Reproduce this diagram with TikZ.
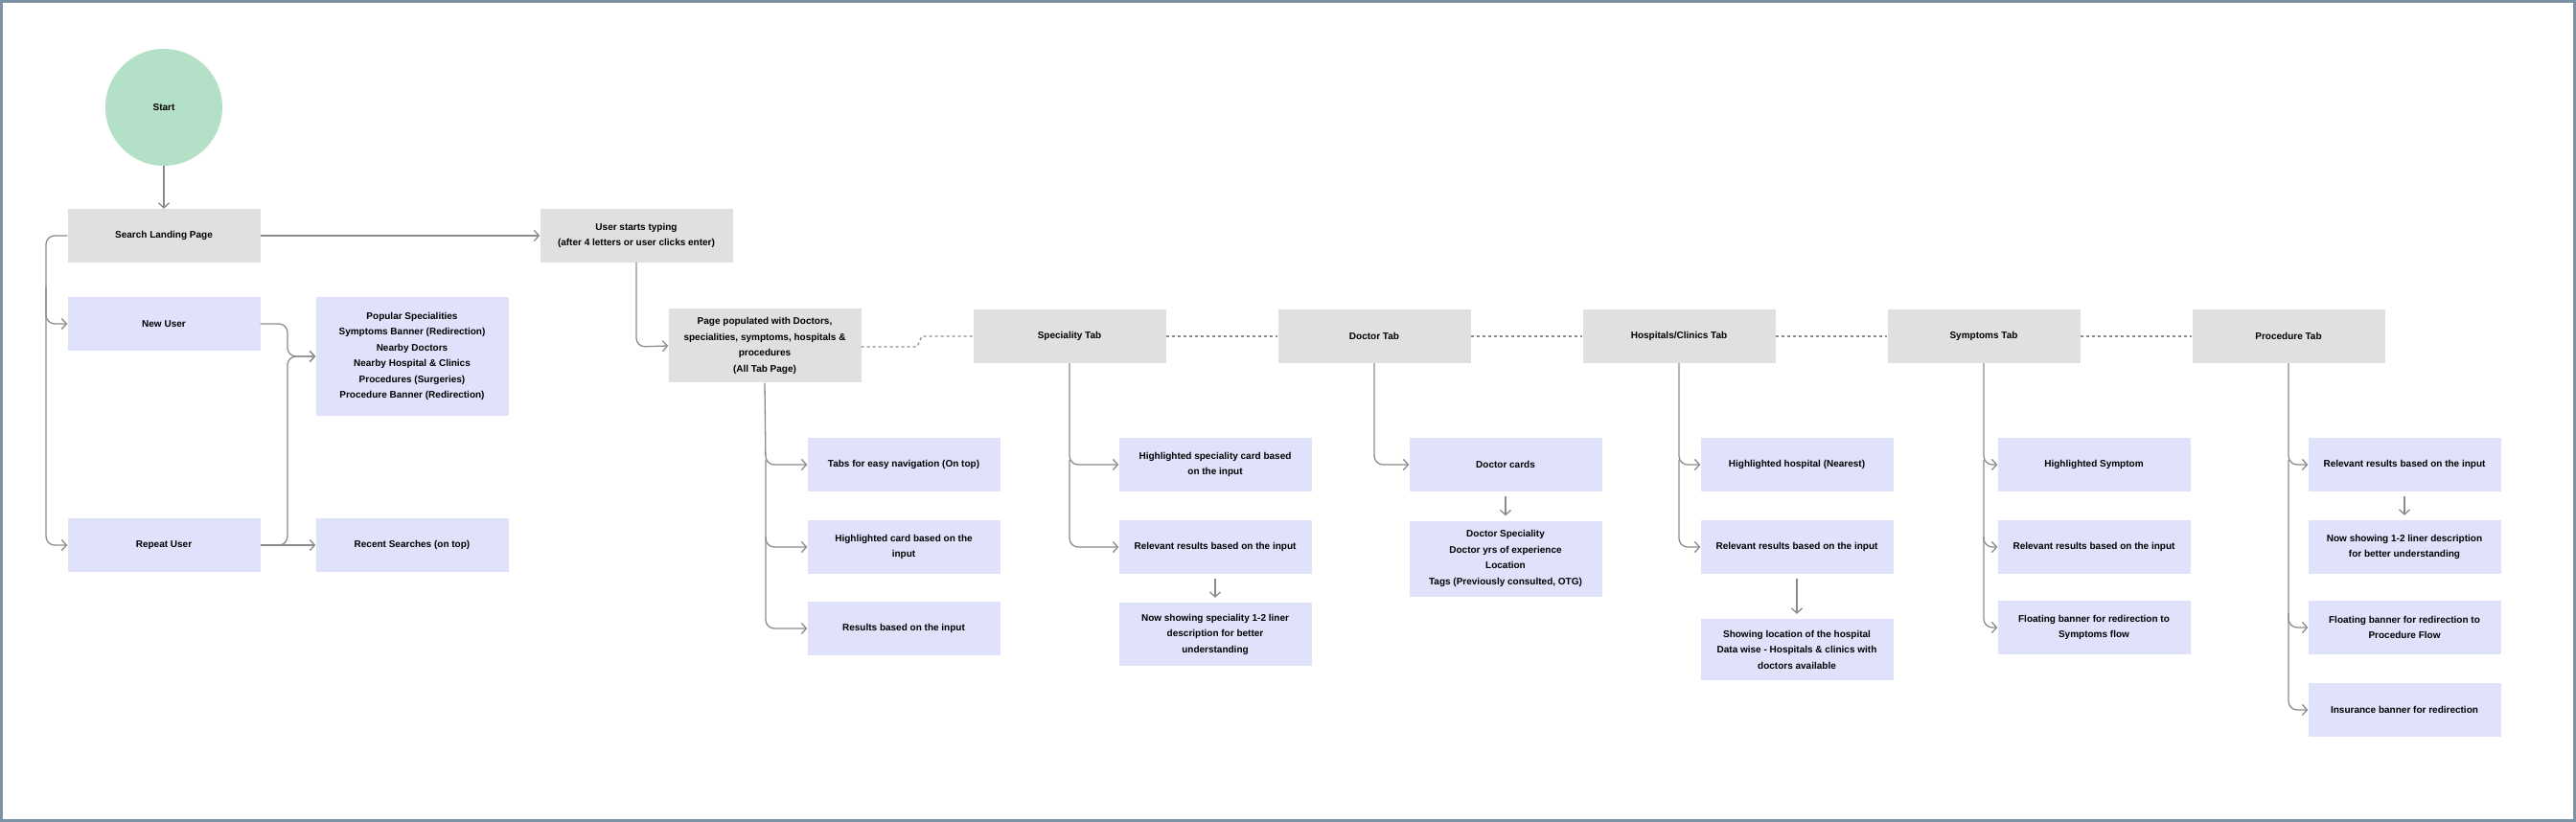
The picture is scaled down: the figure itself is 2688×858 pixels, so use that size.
\documentclass[tikz,border=0pt]{standalone}
\usepackage{fontspec}
\setmainfont{Liberation Sans}
\usetikzlibrary{arrows.meta,positioning}
\definecolor{boxgrey}{HTML}{E0E0E0}
\definecolor{boxlav}{HTML}{E0E2FB}
\definecolor{startgreen}{HTML}{B5E0C8}
\definecolor{linegrey}{HTML}{8C8C8C}
\definecolor{framecol}{HTML}{7D93A5}
\tikzset{
  greybox/.style={fill=boxgrey,minimum width=201pt,minimum height=56pt,align=center,inner sep=2pt,font=\fontsize{10}{16.5}\selectfont\bfseries},
  lavbox/.style={greybox,fill=boxlav},
  flow/.style={linegrey,line width=1.3pt,rounded corners=9pt,-{Straight Barb[length=5pt,width=11pt]}},
  tabline/.style={linegrey,line width=1.3pt,dash pattern=on 3pt off 3pt}
}
\begin{document}
\begin{tikzpicture}[x=1pt,y=-1pt]
  \fill[white] (0,0) rectangle (2688,858);
  \draw[framecol,line width=3pt] (1.5,1.5) rectangle (2686.5,856.5);

  % left part
  \node[circle,fill=startgreen,minimum size=122pt,font=\fontsize{10}{12}\selectfont\bfseries] (start) at (171,112) {Start};
  \node[greybox] (landing) at (171,246) {Search Landing Page};
  \node[greybox] (typing) at (664,246) {User starts typing\\(after 4 letters or user clicks enter)};
  \node[lavbox] (newuser) at (171,338) {New User};
  \node[lavbox] (repeat) at (171,569) {Repeat User};
  \node[lavbox,minimum height=124pt] (popular) at (430,372) {Popular Specialities\\Symptoms Banner (Redirection)\\Nearby Doctors\\Nearby Hospital \& Clinics\\Procedures (Surgeries)\\Procedure Banner (Redirection)};
  \node[lavbox] (recent) at (430,569) {Recent Searches (on top)};

  \draw[flow] (start) -- (landing);
  \draw[flow] (landing) -- (typing);
  \draw[flow] (landing.west) -- (48,246) -- (48,569) -- (repeat.west);
  \draw[flow] (48,300) -- (48,338) -- (newuser.west);
  \draw[flow] (newuser.east) -- (300,338) -- (300,372) -- (popular.west);
  \draw[flow] (repeat.east) -- (recent.west);
  \draw[flow] (290,569) -- (300,569) -- (300,372) -- (popular.west);

  % tabs row
  \node[greybox,minimum height=77pt] (alltab) at (798,361) {Page populated with Doctors,\\specialities, symptoms, hospitals \&\\procedures\\(All Tab Page)};
  \node[greybox] (spectab) at (1116,351) {Speciality Tab};
  \node[greybox] (doctab) at (1434,351) {Doctor Tab};
  \node[greybox] (hosptab) at (1752,351) {Hospitals/Clinics Tab};
  \node[greybox] (symtab) at (2070,351) {Symptoms Tab};
  \node[greybox] (proctab) at (2388,351) {Procedure Tab};

  \draw[flow] (typing.south) -- (664,362) -- (alltab.west);
  \draw[tabline] (alltab.east |- 0,362) -- (957,362) -- (962,351) -- (spectab.west);
  \draw[tabline] (spectab) -- (doctab);
  \draw[tabline] (doctab) -- (hosptab);
  \draw[tabline] (hosptab) -- (symtab);
  \draw[tabline] (symtab) -- (proctab);

  % all tab page
  \node[lavbox] (navtabs) at (943,485) {Tabs for easy navigation (On top)};
  \node[lavbox] (hlcard) at (943,571) {Highlighted card based on the\\input};
  \node[lavbox] (results) at (943,656) {Results based on the input};
  \draw[flow] (alltab.south) -- (799,485) -- (navtabs.west);
  \draw[flow] (799,480) -- (799,571) -- (hlcard.west);
  \draw[flow] (799,560) -- (799,656) -- (results.west);

  % speciality tab
  \node[lavbox] (hlspec) at (1268,485) {Highlighted speciality card based\\on the input};
  \node[lavbox] (specrel) at (1268,571) {Relevant results based on the input};
  \node[lavbox,minimum height=66pt] (specdesc) at (1268,662) {Now showing speciality 1-2 liner\\description for better\\understanding};
  \draw[flow] (spectab.south) -- (1116,485) -- (hlspec.west);
  \draw[flow] (1116,480) -- (1116,571) -- (specrel.west);
  \draw[flow,shorten <=5pt,shorten >=5pt] (specrel) -- (specdesc);

  % doctor tab
  \node[lavbox] (doccards) at (1571,485) {Doctor cards};
  \node[lavbox,minimum height=79pt] (docinfo) at (1571,583) {Doctor Speciality\\Doctor yrs of experience\\Location\\Tags (Previously consulted, OTG)};
  \draw[flow] (doctab.south) -- (1434,485) -- (doccards.west);
  \draw[flow,shorten <=5pt,shorten >=5pt] (doccards) -- (docinfo);

  % hospitals tab
  \node[lavbox] (hlhosp) at (1875,485) {Highlighted hospital (Nearest)};
  \node[lavbox] (hosprel) at (1875,571) {Relevant results based on the input};
  \node[lavbox,minimum height=64pt] (hosploc) at (1875,678) {Showing location of the hospital\\Data wise - Hospitals \& clinics with\\doctors available};
  \draw[flow] (hosptab.south) -- (1752,485) -- (hlhosp.west);
  \draw[flow] (1752,480) -- (1752,571) -- (hosprel.west);
  \draw[flow,shorten <=5pt,shorten >=5pt] (hosprel) -- (hosploc);

  % symptoms tab
  \node[lavbox] (hlsym) at (2185,485) {Highlighted Symptom};
  \node[lavbox] (symrel) at (2185,571) {Relevant results based on the input};
  \node[lavbox] (symbanner) at (2185,655) {Floating banner for redirection to\\Symptoms flow};
  \draw[flow] (symtab.south) -- (2070,485) -- (hlsym.west);
  \draw[flow] (2070,480) -- (2070,571) -- (symrel.west);
  \draw[flow] (2070,560) -- (2070,655) -- (symbanner.west);

  % procedure tab
  \node[lavbox] (procrel) at (2509,485) {Relevant results based on the input};
  \node[lavbox] (procdesc) at (2509,571) {Now showing 1-2 liner description\\for better understanding};
  \node[lavbox] (procbanner) at (2509,655) {Floating banner for redirection to\\Procedure Flow};
  \node[lavbox] (insurance) at (2509,741) {Insurance banner for redirection};
  \draw[flow] (proctab.south) -- (2388,485) -- (procrel.west);
  \draw[flow,shorten <=5pt,shorten >=5pt] (procrel) -- (procdesc);
  \draw[flow] (2388,480) -- (2388,655) -- (procbanner.west);
  \draw[flow] (2388,640) -- (2388,741) -- (insurance.west);
\end{tikzpicture}
\end{document}
